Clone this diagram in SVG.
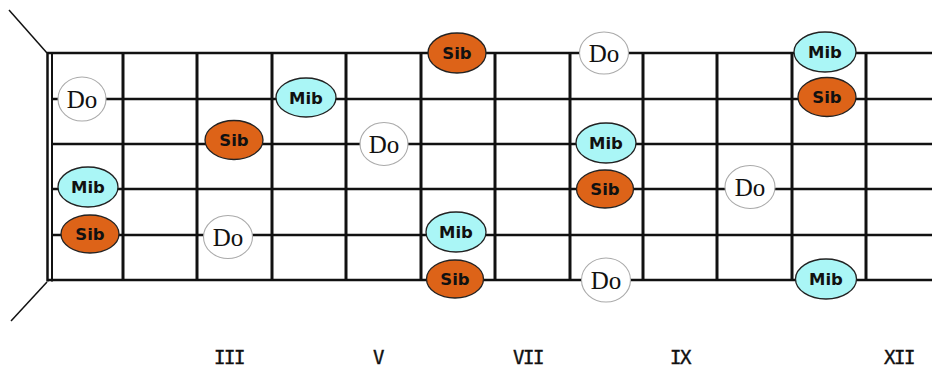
<svg xmlns="http://www.w3.org/2000/svg" width="932" height="370" viewBox="0 0 932 370">
<style>
.str{stroke:#111;stroke-width:2.6;fill:none}
.fret{stroke:#111;stroke-width:3;fill:none}
.diag{stroke:#111;stroke-width:1.5;fill:none}
.do ellipse{fill:#fff;stroke:#aaa;stroke-width:1.1}
.mib ellipse{fill:#aaf6f6;stroke:#222;stroke-width:1.3}
.sib ellipse{fill:#dd6318;stroke:#222;stroke-width:1.3}
.do text{font-family:"Liberation Serif","Times New Roman",serif;font-size:25px;fill:#111;text-anchor:middle}
.mib text,.sib text{font-family:"DejaVu Sans",Verdana,sans-serif;font-weight:bold;font-size:16.5px;fill:#111;text-anchor:middle}
.lbl{font-family:"DejaVu Sans Mono",monospace;font-size:19px;letter-spacing:-1.5px;fill:#111;stroke:#111;stroke-width:0.4;text-anchor:middle}
</style>
<rect width="932" height="370" fill="#fff"/>
<g id="fretboard">
<line class="diag" x1="9" y1="10" x2="47" y2="53"/>
<line class="diag" x1="47" y1="282" x2="11" y2="321"/>
<line class="str" x1="47" y1="53" x2="932" y2="53"/>
<line class="str" x1="51" y1="99" x2="932" y2="99"/>
<line class="str" x1="51" y1="144" x2="932" y2="144"/>
<line class="str" x1="51" y1="189" x2="932" y2="189"/>
<line class="str" x1="51" y1="235" x2="932" y2="235"/>
<line class="str" x1="47" y1="280" x2="932" y2="280"/>
<line class="fret" x1="47.5" y1="52" x2="47.5" y2="281.5" style="stroke-width:2.5"/>
<line class="fret" x1="52" y1="52" x2="52" y2="281.5" style="stroke-width:2"/>
<line class="fret" x1="123" y1="52" x2="123" y2="281"/>
<line class="fret" x1="197" y1="52" x2="197" y2="281"/>
<line class="fret" x1="272" y1="52" x2="272" y2="281"/>
<line class="fret" x1="346" y1="52" x2="346" y2="281"/>
<line class="fret" x1="421" y1="52" x2="421" y2="281"/>
<line class="fret" x1="495" y1="52" x2="495" y2="281"/>
<line class="fret" x1="570" y1="52" x2="570" y2="281"/>
<line class="fret" x1="643" y1="52" x2="643" y2="281"/>
<line class="fret" x1="717" y1="52" x2="717" y2="281"/>
<line class="fret" x1="792" y1="52" x2="792" y2="281"/>
<line class="fret" x1="866" y1="52" x2="866" y2="281"/>
</g>
<g id="connectors"></g>
<g id="n1" class="do"><ellipse cx="82" cy="99" rx="24" ry="22"/><text x="82" y="107.5">Do</text></g>
<g id="n2" class="mib"><ellipse cx="88" cy="187" rx="30" ry="20"/><text x="88" y="193">Mib</text></g>
<g id="n3" class="sib"><ellipse cx="90" cy="234" rx="29" ry="19"/><text x="90" y="240">Sib</text></g>
<g id="n4" class="sib"><ellipse cx="234" cy="140" rx="29" ry="19.5"/><text x="234" y="146">Sib</text></g>
<g id="n5" class="do"><ellipse cx="228" cy="237" rx="24.5" ry="21.5"/><text x="228" y="245.5">Do</text></g>
<g id="n6" class="mib"><ellipse cx="306" cy="97.5" rx="30" ry="19.5"/><text x="306" y="103.5">Mib</text></g>
<g id="n7" class="do"><ellipse cx="384" cy="144" rx="24" ry="21.5"/><text x="384" y="152.5">Do</text></g>
<g id="n8" class="sib"><ellipse cx="457" cy="53" rx="29" ry="20"/><text x="457" y="59">Sib</text></g>
<g id="n9" class="mib"><ellipse cx="456" cy="232" rx="30" ry="20"/><text x="456" y="238">Mib</text></g>
<g id="n10" class="sib"><ellipse cx="455" cy="279" rx="28.5" ry="19"/><text x="455" y="285">Sib</text></g>
<g id="n11" class="do"><ellipse cx="604" cy="53" rx="24.5" ry="21"/><text x="604" y="61.5">Do</text></g>
<g id="n12" class="mib"><ellipse cx="606" cy="143" rx="30" ry="20"/><text x="606" y="149">Mib</text></g>
<g id="n13" class="sib"><ellipse cx="605" cy="189" rx="28.5" ry="19"/><text x="605" y="195">Sib</text></g>
<g id="n14" class="do"><ellipse cx="606" cy="280" rx="24.5" ry="22"/><text x="606" y="288.5">Do</text></g>
<g id="n15" class="do"><ellipse cx="750" cy="187" rx="25" ry="21.5"/><text x="750" y="195.5">Do</text></g>
<g id="n16" class="mib"><ellipse cx="825" cy="52" rx="31" ry="20"/><text x="825" y="58">Mib</text></g>
<g id="n17" class="sib"><ellipse cx="827" cy="97" rx="29" ry="19.5"/><text x="827" y="103">Sib</text></g>
<g id="n18" class="mib"><ellipse cx="826" cy="279" rx="30.5" ry="20"/><text x="826" y="285">Mib</text></g>
<g id="labels">
<text class="lbl" x="229" y="363.5">III</text>
<text class="lbl" x="378" y="363.5">V</text>
<text class="lbl" x="528" y="363.5">VII</text>
<text class="lbl" x="680" y="363.5">IX</text>
<text class="lbl" x="899" y="363.5">XII</text>
</g>
</svg>
